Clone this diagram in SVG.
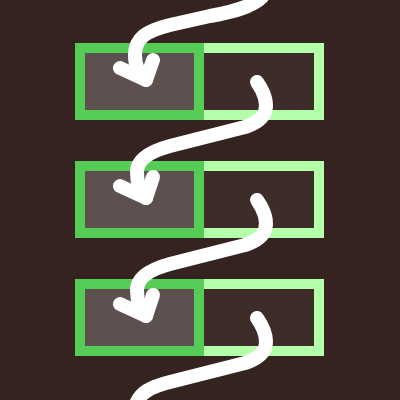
<svg xmlns="http://www.w3.org/2000/svg" width="400" height="400" viewBox="0 0 400 400">
<style>
.bg{fill:#35231f}
.l{fill:#5d514f;stroke:#55cc55;stroke-width:10}
.r{fill:#3e2c29;stroke:#b3ffaa;stroke-width:10}
.c{fill:none;stroke:#ffffff;stroke-width:14;stroke-linecap:round;stroke-linejoin:round}
</style>
<rect class="bg" x="0" y="0" width="400" height="400"/>
<g id="row1">
<g id="r1b"><rect class="r" x="199" y="48" width="120" height="67"/></g>
<g id="r1a"><rect class="l" x="80" y="48" width="119" height="67"/></g>
</g>
<g id="row2">
<g id="r2b"><rect class="r" x="199" y="166" width="120" height="67"/></g>
<g id="r2a"><rect class="l" x="80" y="166" width="119" height="67"/></g>
</g>
<g id="row3">
<g id="r3b"><rect class="r" x="199" y="284" width="120" height="67"/></g>
<g id="r3a"><rect class="l" x="80" y="284" width="119" height="67"/></g>
</g>
<g id="connectors">
<path class="c" d="M262,-3 C 252,7 232,12 210,16 L 170,25 C 146,31 135,38 135,55 C 135,66 139,74 146,80"/>
<path class="c" d="M120,68 L146,80 L153,60"/>
<path class="c" d="M257,82 C 264,92 268,102 265,112 C 262,120 254,124 245,127 L 170,146 C 148,152 137,160 137,172 C 137,184 140,192 146,198"/>
<path class="c" d="M120,186 L146,198 L153,177"/>
<path class="c" d="M257,200 C 264,210 268,220 265,230 C 262,238 254,242 245,245 L 170,264 C 148,270 137,278 137,290 C 137,302 140,310 146,316"/>
<path class="c" d="M120,304 L146,316 L153,295"/>
<path class="c" d="M257,318 C 264,328 268,338 265,348 C 262,356 254,360 245,363 L 170,382 C 150,387 140,393 136,404"/>
</g>
</svg>
